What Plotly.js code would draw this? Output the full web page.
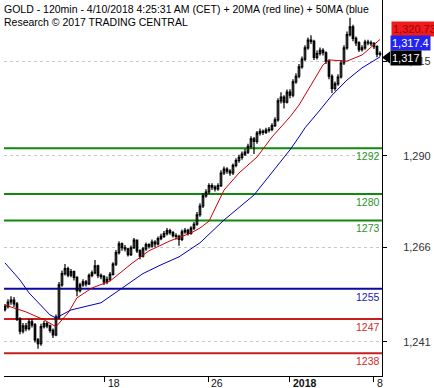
<!DOCTYPE html>
<html><head><meta charset="utf-8">
<script src="https://cdn.plot.ly/plotly-3.0.1.min.js"></script>
<style>html,body{margin:0;padding:0;background:#fff;}#chart{width:434px;height:388px;}</style>
</head><body><div id="chart"></div>
<script>
// 120-min candles (index-based x)
const firstOpen = 1249.5;
const closes = [1250.3,1251.5,1252.0,1251.0,1247.0,1243.8,1245.2,1244.5,1246.3,1245.5,
1241.5,1240.5,1245.0,1245.8,1245.2,1244.0,1242.8,1247.5,1256.0,1259.0,
1260.3,1258.6,1259.5,1258.0,1254.5,1256.0,1256.8,1256.3,1258.5,1259.2,
1261.0,1258.5,1258.2,1256.8,1257.5,1258.8,1261.5,1264.5,1266.8,1265.8,
1265.5,1264.0,1265.8,1267.8,1265.0,1263.6,1265.5,1266.6,1266.2,1267.3,
1266.8,1268.2,1268.8,1269.5,1270.3,1269.8,1269.0,1268.8,1268.0,1270.0,
1270.4,1269.6,1271.0,1272.0,1274.5,1276.8,1279.5,1280.5,1282.2,1281.8,
1281.3,1282.2,1285.5,1286.5,1286.0,1285.5,1287.5,1288.8,1289.6,1290.5,
1291.0,1292.5,1294.5,1293.8,1296.0,1296.5,1296.2,1296.8,1297.0,1298.0,
1299.5,1304.5,1305.5,1304.2,1306.8,1306.0,1309.5,1311.0,1313.5,1315.5,
1318.5,1320.5,1320.2,1316.0,1317.0,1317.8,1317.2,1315.0,1311.0,1307.8,
1309.0,1310.8,1314.5,1318.5,1322.0,1324.0,1321.0,1319.8,1318.0,1318.5,
1320.0,1319.8,1319.6,1318.8,1316.8,1317.0];
const highs = [1251.0,1252.2,1253.0,1252.8,1251.5,1247.5,1246.0,1246.0,1247.0,1247.0,
1246.0,1242.0,1245.8,1246.5,1246.3,1245.6,1244.5,1248.2,1256.8,1259.8,
1261.5,1260.8,1260.2,1259.8,1258.3,1256.6,1257.5,1257.3,1259.0,1259.8,
1262.6,1261.3,1259.0,1258.6,1258.2,1259.4,1262.0,1265.2,1267.5,1267.2,
1266.5,1265.8,1266.4,1268.4,1268.0,1265.4,1266.0,1267.2,1267.0,1268.0,
1267.8,1268.8,1269.5,1270.2,1271.0,1270.8,1270.2,1269.6,1269.2,1270.6,
1271.0,1270.8,1271.5,1272.6,1275.2,1277.5,1280.2,1281.2,1282.8,1282.8,
1282.3,1282.8,1286.2,1287.2,1287.0,1286.5,1288.0,1289.4,1290.3,1291.2,
1291.8,1293.2,1295.2,1295.0,1296.6,1297.2,1297.0,1297.4,1297.6,1298.6,
1300.2,1305.2,1306.8,1306.0,1307.5,1307.6,1310.2,1311.8,1314.2,1316.2,
1319.2,1321.2,1321.8,1320.6,1317.8,1318.6,1318.4,1317.6,1315.4,1311.5,
1309.6,1311.5,1315.2,1319.2,1322.8,1326.4,1324.6,1321.5,1320.2,1319.2,
1320.6,1320.6,1320.4,1320.0,1319.2,1317.6];
const lows = [1249.0,1249.8,1250.8,1250.2,1246.5,1243.0,1243.2,1243.8,1244.0,1244.8,
1240.8,1239.2,1240.0,1244.5,1244.6,1243.4,1242.0,1242.5,1247.0,1255.5,
1258.5,1258.0,1258.0,1257.2,1253.0,1254.0,1255.5,1255.6,1256.0,1258.0,
1258.8,1257.8,1257.5,1256.0,1256.2,1257.0,1258.5,1261.0,1264.0,1265.0,
1264.8,1263.5,1263.6,1265.5,1264.4,1262.8,1263.2,1265.0,1265.6,1265.8,
1266.0,1266.4,1267.8,1268.4,1269.0,1269.2,1268.5,1268.0,1266.3,1267.6,
1269.5,1269.0,1269.2,1270.5,1271.6,1274.0,1276.3,1279.0,1280.0,1281.0,
1280.6,1280.8,1281.8,1285.0,1285.3,1284.8,1285.0,1287.0,1288.2,1289.0,
1290.0,1290.5,1292.0,1290.5,1293.2,1295.4,1295.5,1295.8,1296.2,1296.5,
1297.6,1299.0,1303.8,1302.5,1303.8,1305.2,1305.5,1309.0,1310.5,1313.0,
1315.0,1318.0,1319.5,1315.3,1315.4,1316.5,1316.5,1314.2,1310.2,1306.6,
1307.2,1308.5,1310.4,1314.0,1318.0,1321.5,1320.2,1319.0,1317.4,1317.5,
1318.0,1319.2,1319.0,1318.2,1316.0,1316.2];

// 20MA (red) and 50MA (blue), read at candle indices
const redIdx = [0,7,13,17,21,24,29,35,42,48,55,62,65,68,73,78,84,89,95,98,103,106,108,114,119,124,125];
const redMA  = [1250.7,1248.9,1246.8,1245.0,1248.6,1252.6,1255.2,1257.0,1261.5,1265.0,1267.6,1269.7,1271.0,1272.8,1281.0,1285.5,1289.7,1295.0,1300.3,1303.4,1310.0,1314.0,1315.3,1315.0,1316.6,1320.0,1320.7];
const blueIdx = [0,5,8,12,15,17,22,32,38,46,52,58,65,68,73,83,89,95,98,100,105,109,114,119,125];
const blueMA  = [1261.8,1257.3,1253.9,1250.7,1248.1,1247.3,1249.4,1251.3,1254.7,1259.0,1261.3,1263.4,1267.1,1269.4,1273.1,1279.7,1285.5,1291.6,1295.0,1297.4,1302.1,1306.0,1310.0,1313.2,1316.1];

// support / resistance levels
const greenLevels = [1292,1280,1273];
const blueLevels = [1255];
const redLevels = [1247,1238];

// axis ticks
const xTickIdx = [33.3,67.7,95,123];
const xTickText = ['18','26','2018','8'];
const yTickVals = [1241,1266,1290,1315];
const yTickText = ['1,241','1,266','1,290','1,315'];

// title lines
const titleLines = ['GOLD - 120min - 4/10/2018 4:25:31 AM (CET) + 20MA (red line) + 50MA (blue',
                    'Research © 2017 TRADING CENTRAL'];

// last values shown on the right
const lastRed = 1320.73, lastBlue = 1317.4, lastPrice = 1317;

const idx = closes.map((_,i)=>i);
const opens = closes.map((c,i)=> i===0 ? firstOpen : closes[i-1]);

const FONT = 'Arial, "Liberation Sans", sans-serif';
const traces = [
  {type:'candlestick', x:idx, open:opens, high:highs, low:lows, close:closes,
   increasing:{line:{color:'#000',width:1.2}, fillcolor:'#fff'},
   decreasing:{line:{color:'#000',width:1.2}, fillcolor:'#000'},
   whiskerwidth:0, hoverinfo:'skip', showlegend:false},
  {type:'scatter', mode:'lines', x:redIdx, y:redMA, line:{color:'#cc0000',width:1}, hoverinfo:'skip', showlegend:false},
  {type:'scatter', mode:'lines', x:blueIdx, y:blueMA, line:{color:'#0000bb',width:1}, hoverinfo:'skip', showlegend:false}
];

const shapes = [];
const annotations = [];
function addLevels(levels, lineColor, textColor){
  levels.forEach(v=>{
    shapes.push({type:'line', xref:'paper', x0:0, x1:1, yref:'y', y0:v, y1:v, layer:'below',
                 line:{color:lineColor, width:2}});
    annotations.push({xref:'paper', x:1, xanchor:'right', yref:'y', y:v, yanchor:'top', yshift:0,
                 text:String(v), showarrow:false, font:{family:FONT, size:10.5, color:textColor}});
  });
}
addLevels(greenLevels,'#0f8a0f','#2a962a');
addLevels(blueLevels,'#0a0aa0','#1a1ab0');
addLevels(redLevels,'#c81e1e','#d02a2a');

xTickIdx.forEach((x,i)=>{
  annotations.push({xref:'x', x:x, xanchor:'left', xshift:1, yref:'paper', y:0, yanchor:'top', yshift:1,
    text: i===2 ? '<b>'+xTickText[i]+'</b>' : xTickText[i], showarrow:false,
    font:{family:FONT, size:10.5, color:'#111'}});
});

titleLines.forEach((t,i)=>{
  annotations.push({xref:'paper', x:0, xanchor:'left', xshift:-2, yref:'paper', y:1, yanchor:'top', yshift:-1-13*i,
    text:t, showarrow:false, font:{family:FONT, size:10.5, color:'#000'}});
});

// right-side value boxes
annotations.push({xref:'paper', x:1, xanchor:'left', xshift:9, yref:'y', y:lastRed, yshift:10,
  text:lastRed.toLocaleString('en-US',{minimumFractionDigits:2}), showarrow:false, bgcolor:'#ee1c1c', borderpad:1,
  font:{family:FONT, size:11, color:'#a00000'}});
annotations.push({xref:'paper', x:1, xanchor:'left', xshift:8, yref:'y', y:lastBlue, yshift:9,
  text:lastBlue.toLocaleString('en-US',{minimumFractionDigits:1}), showarrow:false, bgcolor:'#2424ee', borderpad:1,
  font:{family:FONT, size:11, color:'#fff'}});
annotations.push({xref:'paper', x:1, xanchor:'left', xshift:8, yref:'y', y:lastPrice, yshift:-4,
  text:lastPrice.toLocaleString('en-US'), showarrow:false, bgcolor:'#000', borderpad:1,
  font:{family:FONT, size:11, color:'#fff'}});
shapes.push({type:'path', xref:'paper', xsizemode:'pixel', xanchor:1, yref:'y', ysizemode:'pixel', yanchor:lastPrice,
  path:'M 0 -4 L 8 2 L 8 -10 Z', fillcolor:'#000', line:{width:0}, layer:'above'});

const layout = {
  width:434, height:388,
  margin:{l:4, r:52, t:0, b:12},
  paper_bgcolor:'#fff', plot_bgcolor:'#fff',
  font:{family:FONT, size:11, color:'#222'},
  showlegend:false,
  xaxis:{range:[-0.33,125.67], showgrid:false, zeroline:false, showline:true, linecolor:'#000', linewidth:1,
         tickvals:xTickIdx, ticktext:xTickText, showticklabels:false, ticks:'outside', ticklen:5, tickcolor:'#000',
         rangeslider:{visible:false}, fixedrange:true},
  yaxis:{range:[1232.0,1331.1], side:'right', showline:true, linecolor:'#000', linewidth:1,
         tickvals:yTickVals, ticktext:yTickText, ticks:'outside', ticklen:4, tickcolor:'#000',
         ticklabelstandoff:14,
         showgrid:true, gridcolor:'#c8c8c8', griddash:'dot', gridwidth:1, zeroline:false,
         tickfont:{family:FONT, size:11, color:'#333'}, fixedrange:true},
  shapes:shapes, annotations:annotations
};
Plotly.newPlot('chart', traces, layout, {displayModeBar:false, staticPlot:true});
</script></body></html>
